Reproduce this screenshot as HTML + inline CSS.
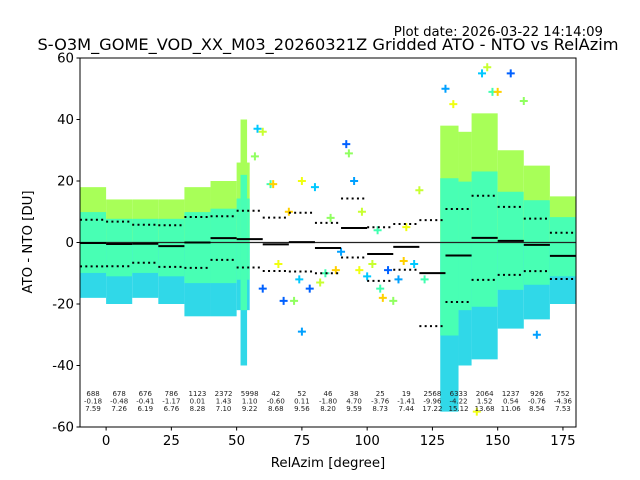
<!DOCTYPE html>
<html><head><meta charset="utf-8"><style>
body{margin:0;background:#fff;}
svg{display:block;font-family:"DejaVu Sans","Liberation Sans",sans-serif;}
</style></head><body>
<svg id="chart" width="640" height="480" viewBox="0 0 640 480" xmlns="http://www.w3.org/2000/svg">
<text x="603" y="36" font-size="13.3" text-anchor="end">Plot date: 2026-03-22 14:14:09</text>
<text x="328" y="50" font-size="16.2" text-anchor="middle">S-O3M_GOME_VOD_XX_M03_20260321Z Gridded ATO - NTO vs RelAzim</text>
<g id="plot"></g>
<text x="328" y="467" font-size="13.3" text-anchor="middle">RelAzim [degree]</text>
<text x="0" y="0" font-size="13.3" text-anchor="middle" transform="translate(32,242) rotate(-90)">ATO - NTO [DU]</text>
</svg>
<script>
const binStarts=[-10,0,10,20,30,40,50,60,70,80,90,100,110,120,130,140,150,160,170];
const binCounts=["688","678","676","786","1123","2372","5998","42","52","46","38","25","19","2568","6333","2064","1237","926","752"];
const binMeans=[-0.18,-0.48,-0.41,-1.17,0.01,1.43,1.10,-0.60,0.11,-1.80,4.70,-3.76,-1.41,-9.96,-4.22,1.52,0.54,-0.76,-4.36];
const binStds=[7.59,7.26,6.19,6.76,8.28,7.10,9.22,8.68,9.56,8.20,9.59,8.73,7.44,17.22,15.12,13.68,11.06,8.54,7.53];
const cloudX0=[-10,0,10,20,30,40,50,51.5,128,135,140,150,160,170];
const cloudX1=[0,10,20,30,40,50,55,54,135,140,150,160,170,180];
const cloudHi=[18,14,14,14,18,20,26,40,38,36,42,30,25,15];
const cloudLo=[-18,-20,-18,-20,-24,-24,-22,-40,-55,-40,-38,-28,-25,-20];
const sparseX=[58,60,63,64,68,72,75,75,80,82,84,88,92,93,95,97,100,102,105,106,108,110,112,115,118,120,122,70,78,86,90,66,74,98,104,114,60,57,130,133,144,146,148,150,155,160,165,142];
const sparseY=[37,36,19,19,-19,-19,-29,20,18,-13,-10,-9,32,29,20,-9,-11,-7,-15,-18,-9,-19,-12,5,-7,17,-12,10,-15,8,-3,-7,-12,10,4,-6,-15,28,50,45,55,57,49,49,55,46,-30,-55];
const yTicks=[-60,-40,-20,0,20,40,60];
const xTicks=[0,25,50,75,100,125,150,175];

const L=80,R=576,T=58,B=427,XMIN=-10,XMAX=180,YMIN=-60,YMAX=60;
const xs=v=>L+(v-XMIN)/(XMAX-XMIN)*(R-L);
const ys=v=>B-(v-YMIN)/(YMAX-YMIN)*(B-T);
const NS="http://www.w3.org/2000/svg";
const g=document.getElementById('plot');
function mk(tag,attrs){const e=document.createElementNS(NS,tag);for(const k in attrs)e.setAttribute(k,attrs[k]);g.appendChild(e);return e;}
const pal=["#00c8ff","#c8ff30","#40ffb0","#ffd000","#0060ff","#90ff60","#00a0ff","#f0ff10"];

for(let i=0;i<cloudX0.length;i++){
  const x0=xs(cloudX0[i]),x1=xs(cloudX1[i]);
  const hi=ys(cloudHi[i]),lo=ys(cloudLo[i]),mid=ys(0);
  let e=mk('rect',{x:x0,y:hi,width:x1-x0,height:mid-hi,fill:"#a8ff58"});
  
  
  e=mk('rect',{x:x0,y:mid,width:x1-x0,height:lo-mid,fill:"#30d8e8"});
  
  
  const ih=ys(cloudHi[i]*0.55),il=ys(cloudLo[i]*0.55);
  e=mk('rect',{x:x0,y:ih,width:x1-x0,height:il-ih,fill:"#48ffb4"});
  
  
}
for(let i=0;i<sparseX.length;i++){
  const x=xs(sparseX[i]),y=ys(sparseY[i]);
  const p=mk('path',{d:`M${x-4},${y}H${x+4}M${x},${y-4}V${y+4}`,stroke:pal[i%pal.length],"stroke-width":2,fill:"none"});
  
  
}
let z=mk('line',{x1:L,x2:R,y1:ys(0),y2:ys(0),stroke:"#222","stroke-width":1.2});


for(let i=0;i<binStarts.length;i++){
  const x0=xs(binStarts[i]),x1=xs(binStarts[i]+10),cx=(x0+x1)/2;
  const m=binMeans[i],s=binStds[i];
  let e=mk('line',{x1:x0,x2:x1,y1:ys(m),y2:ys(m),stroke:"#000","stroke-width":2});
  
  
  for(const v of [m+s,m-s]){
    e=mk('line',{x1:x0,x2:x1,y1:ys(v),y2:ys(v),stroke:"#000","stroke-width":2,"stroke-dasharray":"2,3.3"});
    
    
  }
  const lines=[binCounts[i],binMeans[i].toFixed(2),binStds[i].toFixed(2)];
  lines.forEach((t,k)=>{
    const tx=mk('text',{x:cx,y:396+k*7.6,"font-size":7,"text-anchor":"middle",fill:"#222"});
    tx.textContent=t;
    
    
  });
}
let f=mk('rect',{x:L,y:T,width:R-L,height:B-T,fill:"none",stroke:"#000","stroke-width":1});


yTicks.forEach(v=>{
  const y=ys(v);
  let t=mk('line',{x1:L-3.5,x2:L,y1:y,y2:y,stroke:"#000"});
  
  
  const tx=mk('text',{x:L-6,y:y+4.5,"font-size":13.3,"text-anchor":"end"});
  tx.textContent=v;
  
  
});
xTicks.forEach(v=>{
  const x=xs(v);
  let t=mk('line',{x1:x,x2:x,y1:B,y2:B+3.5,stroke:"#000"});
  
  
  const tx=mk('text',{x:x,y:B+18,"font-size":13.3,"text-anchor":"middle"});
  tx.textContent=v;
  
  
});
</script>
</body></html>
